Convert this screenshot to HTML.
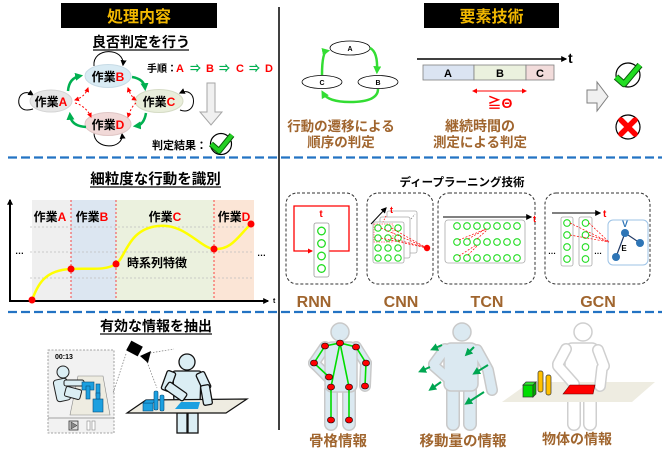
<!DOCTYPE html>
<html><head><meta charset="utf-8"><style>
html,body{margin:0;padding:0;background:#fff;}
svg{display:block;}
text{font-family:"Liberation Sans","Noto Sans CJK JP",sans-serif;font-weight:bold;}
</style></head><body>
<svg width="662" height="453" viewBox="0 0 662 453" xmlns="http://www.w3.org/2000/svg">
<defs>
<marker id="mk" markerUnits="userSpaceOnUse" viewBox="0 0 10 10" refX="8" refY="5" markerWidth="6" markerHeight="6" orient="auto-start-reverse"><path d="M0,0L10,5L0,10z" fill="#000"/></marker>
<marker id="mg" markerUnits="userSpaceOnUse" viewBox="0 0 10 10" refX="6" refY="5" markerWidth="8" markerHeight="8" orient="auto-start-reverse"><path d="M0,0L10,5L0,10z" fill="#00b050"/></marker>
<marker id="mr" markerUnits="userSpaceOnUse" viewBox="0 0 10 10" refX="8" refY="5" markerWidth="5" markerHeight="5" orient="auto-start-reverse"><path d="M0,0L10,5L0,10z" fill="#ff0000"/></marker>
<marker id="ml" markerUnits="userSpaceOnUse" viewBox="0 0 10 10" refX="6" refY="5" markerWidth="8" markerHeight="8" orient="auto-start-reverse"><path d="M0,0L10,5L0,10z" fill="#33dd33"/></marker>
<marker id="ma" markerUnits="userSpaceOnUse" viewBox="0 0 10 10" refX="6" refY="5" markerWidth="8" markerHeight="8" orient="auto-start-reverse"><path d="M0,0L10,5L0,10z" fill="#00a651"/></marker>
</defs>

<!-- dividers -->
<line x1="279" y1="7" x2="279" y2="430" stroke="#000" stroke-width="1.5"/>
<line x1="8" y1="157.5" x2="662" y2="157.5" stroke="#2373c3" stroke-width="2.2" stroke-dasharray="9,4"/>
<line x1="8" y1="312" x2="662" y2="312" stroke="#2373c3" stroke-width="2.2" stroke-dasharray="9,4"/>

<!-- headers -->
<rect x="61" y="3" width="156" height="25" fill="#000"/>
<text x="139" y="22" font-size="16" fill="#f2b800" text-anchor="middle">処理内容</text>
<rect x="424" y="3" width="135" height="25" fill="#000"/>
<text x="491.5" y="22" font-size="16" fill="#f2b800" text-anchor="middle">要素技術</text>

<!-- ===== top-left ===== -->
<text x="141" y="47" font-size="14" fill="#000" text-anchor="middle">良否判定を行う</text>
<line x1="93" y1="50" x2="189" y2="50" stroke="#333" stroke-width="1.5"/>

<!-- loops -->
<path d="M33,95 C16,84 12,116 33,109" fill="none" stroke="#000" stroke-width="1" marker-start="url(#mk)"/>
<path d="M94,66 C92,47 125,47 123,65" fill="none" stroke="#000" stroke-width="1" marker-end="url(#mk)"/>
<path d="M180,93 C198,85 198,117 180,110" fill="none" stroke="#000" stroke-width="1" marker-start="url(#mk)"/>
<path d="M94,133 C94,150 124,150 122,134" fill="none" stroke="#000" stroke-width="1" marker-end="url(#mk)"/>

<ellipse cx="51" cy="101" rx="21" ry="11" fill="#e6e6e6" stroke="#d4d4d4"/>
<ellipse cx="108" cy="76" rx="23" ry="11.5" fill="#d9ebf4" stroke="#c8dbe6"/>
<ellipse cx="159" cy="101" rx="24" ry="11.5" fill="#e9eedb" stroke="#d6dcc6"/>
<ellipse cx="108" cy="124" rx="23" ry="11.5" fill="#f1d9d8" stroke="#e0c6c5"/>
<text x="51" y="106" font-size="12" text-anchor="middle">作業<tspan fill="#ff0000">A</tspan></text>
<text x="108" y="81" font-size="12" text-anchor="middle">作業<tspan fill="#ff0000">B</tspan></text>
<text x="159" y="106" font-size="12" text-anchor="middle">作業<tspan fill="#ff0000">C</tspan></text>
<text x="108" y="129" font-size="12" text-anchor="middle">作業<tspan fill="#ff0000">D</tspan></text>

<!-- green transitions -->
<path d="M68,91 Q69,78 80,76" fill="none" stroke="#00b050" stroke-width="2.5" marker-end="url(#mg)"/>
<path d="M132,77 Q144,79 145,88" fill="none" stroke="#00b050" stroke-width="2.5" marker-end="url(#mg)"/>
<path d="M146,113 Q144,125 136,126" fill="none" stroke="#00b050" stroke-width="2.5" marker-end="url(#mg)"/>
<path d="M86,127 Q71,126 70,115" fill="none" stroke="#00b050" stroke-width="2.5" marker-end="url(#mg)"/>
<!-- red dashed -->
<path d="M88,88 Q85,97 75,100" fill="none" stroke="#ff0000" stroke-width="1" stroke-dasharray="2,2" marker-start="url(#mr)" marker-end="url(#mr)"/>
<path d="M75,103 Q86,106 91,117" fill="none" stroke="#ff0000" stroke-width="1" stroke-dasharray="2,2" marker-end="url(#mr)"/>
<path d="M128,88 Q131,97 136,100" fill="none" stroke="#ff0000" stroke-width="1" stroke-dasharray="2,2" marker-start="url(#mr)" marker-end="url(#mr)"/>
<path d="M136,103 Q131,107 128,117" fill="none" stroke="#ff0000" stroke-width="1" stroke-dasharray="2,2" marker-end="url(#mr)"/>

<text x="147" y="72" font-size="10">手順：<tspan fill="#ff0000" font-size="11" x="176">A</tspan><tspan fill="#00b050" x="190" font-size="11">⇒</tspan><tspan fill="#ff0000" font-size="11" x="206">B</tspan><tspan fill="#00b050" x="219" font-size="11">⇒</tspan><tspan fill="#ff0000" font-size="11" x="236">C</tspan><tspan fill="#00b050" x="249" font-size="11">⇒</tspan><tspan fill="#ff0000" font-size="11" x="265">D</tspan></text>

<polygon points="207,83 215,83 215,112 222,112 211,125 200,112 207,112" fill="#f0f0f0" stroke="#a6a6a6" stroke-width="1"/>
<text x="152" y="149" font-size="11">判定結果：</text>
<circle cx="221" cy="144" r="10.5" fill="#fff" stroke="#000" stroke-width="1.2"/>
<path d="M211,144 L219,151 L232,135" fill="none" stroke="#0a5a0a" stroke-width="6" stroke-linejoin="round"/>
<path d="M211,144 L219,151 L232,135" fill="none" stroke="#22d022" stroke-width="4" stroke-linejoin="round"/>

<!-- ===== top-right ===== -->
<ellipse cx="350" cy="48" rx="20" ry="7" fill="#fff" stroke="#000" stroke-width="0.8"/>
<ellipse cx="378" cy="82" rx="20" ry="6.5" fill="#fff" stroke="#000" stroke-width="0.8"/>
<ellipse cx="322" cy="82" rx="20" ry="6.5" fill="#fff" stroke="#000" stroke-width="0.8"/>
<text x="350" y="51" font-size="7" text-anchor="middle" font-weight="normal">A</text>
<text x="378" y="85" font-size="7" text-anchor="middle" font-weight="normal">B</text>
<text x="322" y="85" font-size="7" text-anchor="middle" font-weight="normal">C</text>
<path d="M370,48 Q378,52 377,71" fill="none" stroke="#33dd33" stroke-width="2.5" marker-end="url(#ml)"/>
<path d="M378,89 Q378,102 350,102 Q328,102 323,93" fill="none" stroke="#33dd33" stroke-width="2.5" marker-end="url(#ml)"/>
<path d="M322,75 Q322,52 327,51" fill="none" stroke="#33dd33" stroke-width="2.5" marker-end="url(#ml)"/>
<text x="341" y="131" font-size="13.5" fill="#a0652e" text-anchor="middle">行動の遷移による</text>
<text x="341" y="147" font-size="13.5" fill="#a0652e" text-anchor="middle">順序の判定</text>

<line x1="417" y1="59" x2="566" y2="59" stroke="#000" stroke-width="1.5" marker-end="url(#mk)"/>
<text x="568" y="63" font-size="14">t</text>
<rect x="423" y="65" width="51" height="15" fill="#dbe4f2" stroke="#7f7f7f" stroke-width="0.8"/>
<rect x="474" y="65" width="52" height="15" fill="#ebf1de" stroke="#7f7f7f" stroke-width="0.8"/>
<rect x="526" y="65" width="28" height="15" fill="#f2dcdb" stroke="#7f7f7f" stroke-width="0.8"/>
<text x="448" y="77" font-size="11" text-anchor="middle">A</text>
<text x="500" y="77" font-size="11" text-anchor="middle">B</text>
<text x="540" y="77" font-size="11" text-anchor="middle">C</text>
<line x1="473" y1="91" x2="526" y2="91" stroke="#ff0000" stroke-width="1" marker-start="url(#mr)" marker-end="url(#mr)"/>
<text x="500" y="108" font-size="14" fill="#ff0000" text-anchor="middle">≧Θ</text>
<text x="480" y="131" font-size="14" fill="#a0652e" text-anchor="middle">継続時間の</text>
<text x="480" y="147" font-size="13.5" fill="#a0652e" text-anchor="middle">測定による判定</text>

<polygon points="587,90 597,90 597,82 608,96.5 597,111 597,103 587,103" fill="#f0f0f0" stroke="#7f7f7f" stroke-width="1"/>
<circle cx="628" cy="75" r="12" fill="#fff" stroke="#000" stroke-width="1.2"/>
<path d="M616,77 L624,84 L640,65" fill="none" stroke="#0a5a0a" stroke-width="6.5" stroke-linejoin="round"/>
<path d="M616,77 L624,84 L640,65" fill="none" stroke="#22dd22" stroke-width="4.5" stroke-linejoin="round"/>
<circle cx="628" cy="127" r="12" fill="#fff" stroke="#000" stroke-width="1.2"/>
<path d="M621,120 L635,134 M635,120 L621,134" stroke="#ff0000" stroke-width="5.5" stroke-linecap="round"/>

<!-- ===== middle-left ===== -->
<text x="155.5" y="184" font-size="14.5" text-anchor="middle">細粒度な行動を識別</text>
<line x1="90" y1="187" x2="221" y2="187" stroke="#333" stroke-width="1.5"/>
<rect x="32" y="200" width="39" height="101" fill="#efefef"/>
<rect x="71" y="200" width="45" height="101" fill="#dce6f1"/>
<rect x="116" y="200" width="98" height="101" fill="#ebf1de"/>
<rect x="214" y="200" width="40" height="101" fill="#fbe5d6"/>
<g stroke="#bfbfbf" stroke-width="0.8" stroke-dasharray="2,2">
<line x1="30" y1="227" x2="254" y2="227"/>
<line x1="30" y1="252" x2="254" y2="252"/>
<line x1="30" y1="278" x2="254" y2="278"/>
</g>
<g stroke="#ff0000" stroke-width="0.7" stroke-dasharray="2,2">
<line x1="71" y1="200" x2="71" y2="300"/>
<line x1="116" y1="200" x2="116" y2="300"/>
<line x1="214" y1="200" x2="214" y2="300"/>
</g>
<text x="50" y="221" font-size="12" text-anchor="middle">作業<tspan fill="#ff0000">A</tspan></text>
<text x="92" y="221" font-size="12" text-anchor="middle">作業<tspan fill="#ff0000">B</tspan></text>
<text x="165" y="221" font-size="12" text-anchor="middle">作業<tspan fill="#ff0000">C</tspan></text>
<text x="234" y="221" font-size="12" text-anchor="middle">作業<tspan fill="#ff0000">D</tspan></text>
<line x1="10" y1="301" x2="10" y2="200" stroke="#000" stroke-width="2" marker-end="url(#mk)"/>
<line x1="9" y1="301" x2="268" y2="301" stroke="#000" stroke-width="2" marker-end="url(#mk)"/>
<text x="273" y="303" font-size="7" font-weight="normal">t</text>
<text x="15" y="254" font-size="9" font-weight="normal">…</text>
<text x="257" y="256" font-size="9" font-weight="normal">…</text>
<path d="M32,300 C38,285 44,270 71,269 C90,268 105,271 116,264 C126,257 128,229 158,226 C185,223 200,248 214,249 C232,250 238,236 251,224" fill="none" stroke="#ffff00" stroke-width="2.5"/>
<g fill="#ff0000">
<circle cx="32" cy="300" r="3.5"/><circle cx="71" cy="269" r="3.5"/><circle cx="116" cy="264" r="3.5"/><circle cx="214" cy="249" r="3.5"/><circle cx="251" cy="224" r="3.5"/>
</g>
<text x="127" y="267" font-size="12">時系列特徴</text>

<!-- ===== middle-right ===== -->
<text x="462" y="186" font-size="11.5" text-anchor="middle">ディープラーニング技術</text>
<g fill="none" stroke="#333" stroke-width="1" stroke-dasharray="3,2">
<rect x="286" y="193" width="71" height="91" rx="11"/>
<rect x="367" y="193" width="66" height="91" rx="11"/>
<rect x="438" y="193" width="97" height="91" rx="11"/>
<rect x="545" y="193" width="105" height="91" rx="11"/>
</g>
<g font-size="16" fill="#a0652e" text-anchor="middle">
<text x="314" y="307">RNN</text><text x="401" y="307">CNN</text><text x="487" y="307">TCN</text><text x="598" y="307">GCN</text>
</g>
<!-- RNN -->
<path d="M329,251 L349,251 L349,206 L294,206 L294,251 L312,251" fill="none" stroke="#ff0000" stroke-width="1.3" marker-end="url(#mr)"/>
<text x="321" y="217" font-size="10" fill="#ff0000" text-anchor="middle">t</text>
<rect x="314" y="223" width="15" height="54" rx="2" fill="#fff" stroke="#999" stroke-width="0.8"/>
<g fill="#fff" stroke="#22dd22" stroke-width="1.3">
<circle cx="321.5" cy="231" r="3.8"/><circle cx="321.5" cy="243.5" r="3.8"/><circle cx="321.5" cy="256" r="3.8"/><circle cx="321.5" cy="268.5" r="3.8"/>
</g>
<!-- CNN -->
<rect x="387" y="211" width="30" height="42" rx="2" fill="#fff" stroke="#aaa" stroke-width="0.8"/>
<rect x="380" y="217" width="30" height="41" rx="2" fill="#fff" stroke="#aaa" stroke-width="0.8"/>
<rect x="373" y="222" width="31" height="41" rx="2" fill="#fff" stroke="#aaa" stroke-width="0.8"/>
<line x1="371" y1="224" x2="386" y2="208" stroke="#000" stroke-width="1" marker-end="url(#mk)"/>
<line x1="411" y1="219" x2="415" y2="214" stroke="#888" stroke-width="0.8" stroke-dasharray="1.5,1.5"/>
<text x="390" y="213" font-size="9" fill="#ff0000">t</text>
<path d="M386,216 L383,222" stroke="#ff0000" stroke-width="0.7" stroke-dasharray="1.5,1.5"/>
<g fill="#fff" stroke="#22dd22" stroke-width="1.1">
<circle cx="378" cy="228" r="3.2"/><circle cx="388" cy="228" r="3.2"/><circle cx="398" cy="228" r="3.2"/>
<circle cx="378" cy="238" r="3.2"/><circle cx="388" cy="238" r="3.2"/><circle cx="398" cy="238" r="3.2"/>
<circle cx="378" cy="248" r="3.2"/><circle cx="388" cy="248" r="3.2"/><circle cx="398" cy="248" r="3.2"/>
<circle cx="378" cy="258" r="3.2"/><circle cx="388" cy="258" r="3.2"/><circle cx="398" cy="258" r="3.2"/>
</g>
<rect x="374" y="224" width="19" height="18" fill="none" stroke="#ff6060" stroke-width="0.7" stroke-dasharray="1.5,1"/>
<g stroke="#ff0000" stroke-width="0.7" stroke-dasharray="2,1.5">
<line x1="381" y1="228" x2="427" y2="248"/><line x1="391" y1="228" x2="427" y2="248"/><line x1="381" y1="238" x2="427" y2="248"/><line x1="391" y1="238" x2="427" y2="248"/>
</g>
<circle cx="427" cy="248" r="3.2" fill="#ff0000"/>
<!-- TCN -->
<line x1="443" y1="217" x2="531" y2="217" stroke="#000" stroke-width="1" marker-end="url(#mk)"/>
<text x="533" y="222" font-size="9" fill="#ff0000">t</text>
<rect x="445" y="220" width="80" height="43" rx="3" fill="#fff" stroke="#aaa" stroke-width="0.8"/>
<g fill="#fff" stroke="#22dd22" stroke-width="1.1">
<circle cx="457" cy="226" r="3.3"/><circle cx="467" cy="226" r="3.3"/><circle cx="477" cy="226" r="3.3"/><circle cx="487" cy="226" r="3.3"/><circle cx="497" cy="226" r="3.3"/><circle cx="507" cy="226" r="3.3"/><circle cx="517" cy="226" r="3.3"/>
<circle cx="457" cy="242" r="3.3"/><circle cx="467" cy="242" r="3.3"/><circle cx="477" cy="242" r="3.3"/><circle cx="487" cy="242" r="3.3"/><circle cx="497" cy="242" r="3.3"/><circle cx="507" cy="242" r="3.3"/><circle cx="517" cy="242" r="3.3"/>
<circle cx="457" cy="258" r="3.3"/><circle cx="467" cy="258" r="3.3"/><circle cx="477" cy="258" r="3.3"/><circle cx="487" cy="258" r="3.3"/><circle cx="497" cy="258" r="3.3"/><circle cx="507" cy="258" r="3.3"/><circle cx="517" cy="258" r="3.3"/>
</g>
<g stroke="#ff0000" stroke-width="0.7" stroke-dasharray="2,1.5" fill="none">
<line x1="459" y1="256" x2="476" y2="245"/><line x1="468" y1="255" x2="477" y2="246"/>
<line x1="459" y1="240" x2="486" y2="229"/><line x1="468" y1="239" x2="486" y2="229"/><line x1="477" y1="239" x2="487" y2="230"/>
</g>
<!-- GCN -->
<line x1="552" y1="213" x2="600" y2="213" stroke="#000" stroke-width="1" marker-end="url(#mk)"/>
<text x="603" y="217" font-size="10" fill="#ff0000">t</text>
<rect x="561" y="217" width="12" height="49" rx="2" fill="#fff" stroke="#aaa" stroke-width="0.8"/>
<rect x="579" y="217" width="13" height="49" rx="2" fill="#fff" stroke="#aaa" stroke-width="0.8"/>
<g fill="#fff" stroke="#22dd22" stroke-width="1.1">
<circle cx="567" cy="223" r="3.3"/><circle cx="567" cy="235" r="3.3"/><circle cx="567" cy="247" r="3.3"/><circle cx="567" cy="259" r="3.3"/>
<circle cx="585.5" cy="223" r="3.3"/><circle cx="585.5" cy="235" r="3.3"/><circle cx="585.5" cy="247" r="3.3"/><circle cx="585.5" cy="259" r="3.3"/>
</g>
<text x="548" y="254" font-size="8" font-weight="normal">…</text>
<text x="594" y="254" font-size="8" font-weight="normal">…</text>
<rect x="608" y="220" width="40" height="45" rx="5" fill="#fff" stroke="#9dc3e6" stroke-width="1"/>
<g stroke="#ff0000" stroke-width="0.7" stroke-dasharray="2,1.5">
<line x1="570" y1="223" x2="609" y2="242"/><line x1="570" y1="235" x2="609" y2="242"/>
<line x1="589" y1="223" x2="609" y2="242"/><line x1="589" y1="235" x2="609" y2="242"/>
</g>
<g stroke="#1f3864" stroke-width="1.2"><line x1="625" y1="233" x2="640" y2="243"/><line x1="625" y1="233" x2="616" y2="257"/></g>
<g fill="#2e75b6"><circle cx="625" cy="233" r="4"/><circle cx="640" cy="243" r="4"/><circle cx="616" cy="257" r="4"/></g>
<text x="625" y="227" font-size="9" fill="#2e75b6" text-anchor="middle">V</text>
<text x="624" y="251" font-size="8" text-anchor="middle">E</text>

<!-- ===== bottom-left ===== -->
<text x="156" y="331" font-size="14" text-anchor="middle">有効な情報を抽出</text>
<line x1="100" y1="334" x2="212" y2="334" stroke="#555" stroke-width="1.8"/>
<!-- video panel -->
<rect x="48" y="350" width="66" height="83" fill="#f2f2f2" stroke="#888" stroke-width="0.8" stroke-dasharray="2,1.5"/>
<line x1="48" y1="418" x2="114" y2="418" stroke="#888" stroke-width="0.8"/>
<text x="55" y="359" font-size="7">00:13</text>
<rect x="69" y="421" width="9" height="9" fill="#ddd" stroke="#333" stroke-width="0.8"/>
<polygon points="71,422 77,425.5 71,429" fill="#888" stroke="#333" stroke-width="0.5"/>
<rect x="87" y="421" width="3" height="9" fill="#fff" stroke="#888" stroke-width="0.6"/>
<rect x="92" y="421" width="3" height="9" fill="#fff" stroke="#888" stroke-width="0.6"/>
<polygon points="78,376 103,376 110,415 70,415" fill="#eeece1" stroke="#888" stroke-width="0.6"/>
<g stroke="#222" stroke-width="1" fill="#dbeef4">
<circle cx="63" cy="372" r="6"/>
<rect x="55" y="379" width="14" height="22" rx="3" transform="rotate(-12 62 390)"/>
<rect x="64" y="380" width="20" height="6" rx="2"/>
<rect x="65" y="388" width="16" height="10" rx="2" transform="rotate(15 73 393)"/>
</g>
<g fill="#1ca0e0" stroke="#0a4d7a" stroke-width="0.6">
<rect x="82" y="382" width="12" height="8"/>
<rect x="86" y="386" width="4" height="13"/>
<rect x="96" y="384" width="4" height="12"/>
<rect x="93" y="399" width="10" height="13"/>
<rect x="96" y="393" width="4" height="6"/>
</g>
<!-- camera -->
<line x1="126" y1="354" x2="113" y2="393" stroke="#777" stroke-width="0.7" stroke-dasharray="1.5,1.5"/>
<line x1="150" y1="353" x2="174" y2="349" stroke="#777" stroke-width="0.7" stroke-dasharray="1.5,1.5"/>
<line x1="147" y1="362" x2="157" y2="388" stroke="#777" stroke-width="0.7" stroke-dasharray="1.5,1.5"/>
<rect x="128" y="343" width="13" height="11" fill="#000" transform="rotate(28 134.5 348.5)"/>
<polygon points="140,356 151,351 148,363" fill="#000"/>
<!-- big person -->
<g stroke="#111" stroke-width="1.3" fill="#dbeef4">
<rect x="177" y="413" width="10" height="20"/>
<rect x="188" y="413" width="10" height="20"/>
<path d="M175,371 L199,371 Q201,371 201,374 L200,404 L174,404 L173,374 Q173,371 175,371Z"/>
<circle cx="187" cy="362" r="8"/>
</g>
<polygon points="127,413 146,400 247,399 226,413" fill="#eeece1" stroke="#111" stroke-width="1.2"/>
<polygon points="175,409 181,402 200,402 198,409" fill="#1ca0e0"/>
<g stroke="#111" stroke-width="1.3" fill="#dbeef4">
<rect x="164" y="371" width="9" height="20" rx="2" transform="rotate(20 168.5 381)"/>
<rect x="165" y="387" width="22" height="9" rx="2" transform="rotate(35 176 391.5)"/>
<rect x="199" y="372" width="9" height="18" rx="2" transform="rotate(-25 203.5 381)"/>
<rect x="202" y="385" width="9" height="20" rx="2" transform="rotate(-10 206.5 395)"/>
</g>
<g fill="#1ca0e0" stroke="#0a4d7a" stroke-width="0.6">
<rect x="143" y="403" width="10" height="8"/>
<polygon points="143,403 146,400 156,400 153,403"/>
<rect x="154" y="391" width="4" height="19" rx="1.5"/>
<rect x="160" y="395" width="4" height="16" rx="1.5"/>
</g>

<!-- ===== bottom-right ===== -->
<!-- skeleton figure -->
<g stroke="#c9c9c9" stroke-linecap="round" fill="none">
<line x1="325" y1="347" x2="314" y2="363" stroke-width="12"/>
<line x1="314" y1="363" x2="329" y2="378" stroke-width="12"/>
<line x1="356" y1="347" x2="366" y2="363" stroke-width="12"/>
<line x1="366" y1="363" x2="365" y2="386" stroke-width="12"/>
<line x1="331" y1="390" x2="331" y2="424" stroke-width="14"/>
<line x1="349" y1="390" x2="349" y2="424" stroke-width="14"/>
</g>
<g stroke="#dbe9f1" stroke-linecap="round" fill="none">
<line x1="325" y1="347" x2="314" y2="363" stroke-width="9"/>
<line x1="314" y1="363" x2="329" y2="378" stroke-width="9"/>
<line x1="356" y1="347" x2="366" y2="363" stroke-width="9"/>
<line x1="366" y1="363" x2="365" y2="386" stroke-width="9"/>
<line x1="331" y1="390" x2="331" y2="424" stroke-width="11"/>
<line x1="349" y1="390" x2="349" y2="424" stroke-width="11"/>
</g>
<rect x="325" y="342" width="32" height="50" rx="7" fill="#dbe9f1" stroke="#c9c9c9" stroke-width="1.5"/>
<circle cx="340" cy="332" r="9" fill="#dbe9f1" stroke="#c9c9c9" stroke-width="1.5"/>
<g stroke="#00dd00" stroke-width="1.6" fill="none">
<polyline points="329,377 314,363 325,346 340,343 356,347 366,363 365,386"/>
<polyline points="331,420 331,387 340,343 349,387 349,420"/>
</g>
<g fill="#ff0000" stroke="#000" stroke-width="0.6">
<ellipse cx="340" cy="343" rx="3.6" ry="3"/><ellipse cx="325" cy="346" rx="3.6" ry="3"/><ellipse cx="356" cy="347" rx="3.6" ry="3"/>
<ellipse cx="314" cy="363" rx="3.6" ry="3"/><ellipse cx="329" cy="377" rx="3.6" ry="3"/><ellipse cx="366" cy="363" rx="3.6" ry="3"/>
<ellipse cx="365" cy="386" rx="3.6" ry="3"/><ellipse cx="331" cy="387" rx="3.6" ry="3"/><ellipse cx="349" cy="387" rx="3.6" ry="3"/>
<ellipse cx="331" cy="420" rx="3.6" ry="3"/><ellipse cx="349" cy="420" rx="3.6" ry="3"/>
</g>
<text x="338" y="446" font-size="14.5" fill="#a0652e" text-anchor="middle">骨格情報</text>

<!-- motion figure -->
<g stroke="#c9c9c9" stroke-linecap="round" fill="none">
<line x1="445" y1="349" x2="434" y2="364" stroke-width="12"/>
<line x1="434" y1="366" x2="450" y2="380" stroke-width="12"/>
<line x1="477" y1="350" x2="487" y2="368" stroke-width="12"/>
<line x1="488" y1="370" x2="492" y2="390" stroke-width="12"/>
<line x1="453" y1="390" x2="453" y2="424" stroke-width="14"/>
<line x1="470" y1="390" x2="470" y2="424" stroke-width="14"/>
</g>
<g stroke="#dbe9f1" stroke-linecap="round" fill="none">
<line x1="453" y1="390" x2="453" y2="424" stroke-width="11"/>
<line x1="470" y1="390" x2="470" y2="424" stroke-width="11"/>
</g>
<rect x="444" y="343" width="34" height="48" rx="7" fill="#dbe9f1" stroke="#c9c9c9" stroke-width="1.5"/>
<g stroke="#dbe9f1" stroke-linecap="round" fill="none">
<line x1="445" y1="349" x2="434" y2="364" stroke-width="9"/>
<line x1="434" y1="366" x2="450" y2="380" stroke-width="9"/>
<line x1="477" y1="350" x2="487" y2="368" stroke-width="9"/>
<line x1="488" y1="370" x2="492" y2="390" stroke-width="9"/>
</g>
<circle cx="462" cy="332" r="9" fill="#dbe9f1" stroke="#c9c9c9" stroke-width="1.5"/>
<g stroke="#00a651" stroke-width="2" fill="none">
<line x1="442" y1="345" x2="433" y2="349" marker-end="url(#ma)"/>
<line x1="474" y1="347" x2="467" y2="354" marker-end="url(#ma)"/>
<line x1="430" y1="367" x2="421" y2="371" marker-end="url(#ma)"/>
<line x1="488" y1="365" x2="475" y2="373" marker-end="url(#ma)"/>
<line x1="441" y1="382" x2="431" y2="389" marker-end="url(#ma)"/>
<line x1="484" y1="392" x2="467" y2="403" marker-end="url(#ma)"/>
</g>
<text x="463" y="446" font-size="14.5" fill="#a0652e" text-anchor="middle">移動量の情報</text>

<!-- object figure -->
<g stroke="#cfcfcf" stroke-linecap="round" fill="none">
<line x1="574" y1="388" x2="574" y2="424" stroke-width="14"/>
<line x1="590" y1="388" x2="590" y2="424" stroke-width="14"/>
</g>
<g stroke="#fff" stroke-linecap="round" fill="none">
<line x1="574" y1="388" x2="574" y2="424" stroke-width="11"/>
<line x1="590" y1="388" x2="590" y2="424" stroke-width="11"/>
</g>
<rect x="565" y="343" width="34" height="46" rx="7" fill="#fff" stroke="#cfcfcf" stroke-width="1.5"/>
<circle cx="583" cy="332" r="9" fill="#fff" stroke="#cfcfcf" stroke-width="1.5"/>
<polygon points="502,402 530,382 655,382 632,402" fill="#eeece1"/>
<g stroke="#cfcfcf" stroke-linecap="round" fill="none">
<line x1="566" y1="349" x2="558" y2="364" stroke-width="12"/>
<line x1="558" y1="366" x2="574" y2="384" stroke-width="12"/>
<line x1="598" y1="350" x2="604" y2="366" stroke-width="12"/>
<line x1="602" y1="368" x2="600" y2="386" stroke-width="12"/>
</g>
<g stroke="#fff" stroke-linecap="round" fill="none">
<line x1="566" y1="349" x2="558" y2="364" stroke-width="9"/>
<line x1="558" y1="366" x2="574" y2="384" stroke-width="9"/>
<line x1="598" y1="350" x2="604" y2="366" stroke-width="9"/>
<line x1="602" y1="368" x2="600" y2="386" stroke-width="9"/>
</g>
<polygon points="563,394 570,385 595,385 593,394" fill="#ff0000" stroke="#600" stroke-width="0.6"/>
<g stroke="#333" stroke-width="0.7">
<rect x="523" y="385" width="10" height="12" fill="#00dd00"/>
<polygon points="523,385 526,382 536,382 533,385" fill="#33ee33"/>
<polygon points="533,385 536,382 536,394 533,397" fill="#00aa00"/>
<rect x="538" y="371" width="5" height="21" rx="2" fill="#ffc000"/>
<rect x="546" y="375" width="5" height="20" rx="2" fill="#ffc000"/>
</g>
<text x="577" y="444" font-size="14" fill="#a0652e" text-anchor="middle">物体の情報</text>
</svg>
</body></html>
